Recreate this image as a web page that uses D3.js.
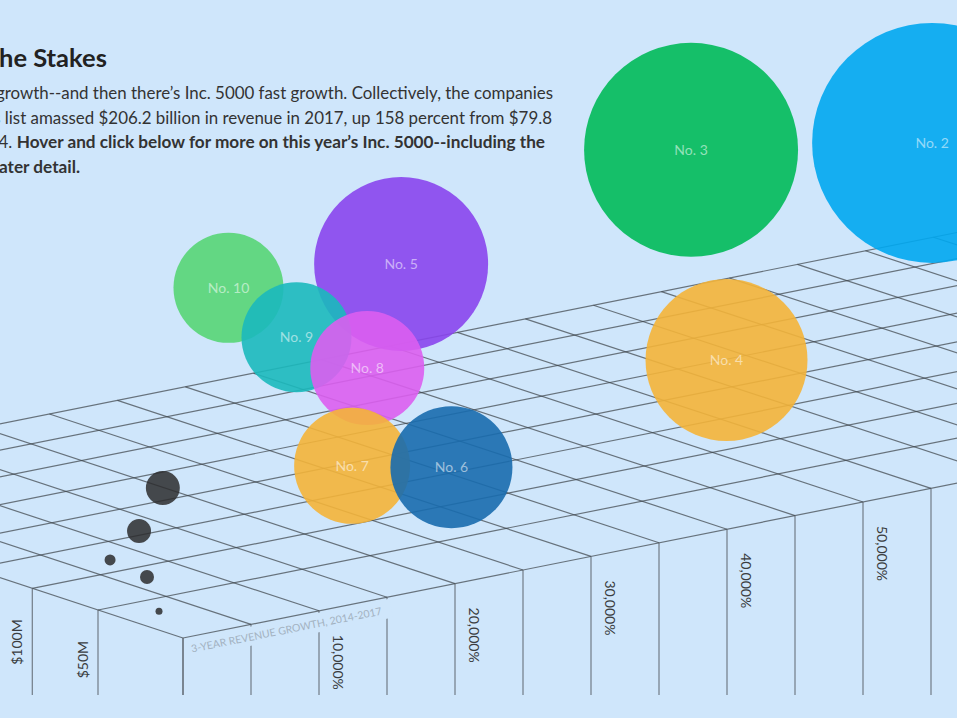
<!DOCTYPE html>
<html>
<head>
<meta charset="utf-8">
<script src="https://cdn.jsdelivr.net/npm/d3@7"></script>
<style>
  body { margin: 0; background: #cfe6fb; overflow: hidden; }
  svg { display: block; font-family: Lato, "Open Sans", sans-serif; }
</style>
</head>
<body>
<div class="chart-container"></div>
<script>
// Top 10 companies (No. 1 sits off the right edge)
const ranks = [2, 3, 4, 5, 6, 7, 8, 9, 10];
const growth = [78700, 57000, 52400, 29800, 27500, 19900, 19800, 14800, 9800];   // 3-year growth, %
const revenue = [250, 200, 115, 130, 65, 62, 50, 52, 52];                       // 2017 revenue, $M
const elevation = [58.4, 81.7, 26.6, 77.1, 20.4, 28.2, 62.7, 77.2, 98.2];
const employees = [2000, 1590, 911, 1051, 517, 467, 451, 420, 420];
const colors = ['#00a7ef', '#00ba59', '#f4b438', '#8845ed', '#186cae', '#f4b438', '#db5eef', '#1bb9bd', '#56d575'];

// the rest of the list (small dark dots)
const otherGrowth = [3500, 1750, 260, 1110, 800];
const otherRevenue = [38, 38, 44, 27, 17];
const otherElevation = [39.4, 26.6, 17.4, 13.7, 4.4];
const otherEmployees = [40, 20, 4.2, 6.8, 1.7];

// axes
const growthGrid = d3.range(0, 100001, 5000);
const revenueGrid = d3.range(0, 401, 50);
const growthTicks = [10000, 20000, 30000, 40000, 50000];
const revenueTicks = [50, 100];

const width = 957;
const height = 718;
const origin = {x: 183, y: 638};     // front corner of the floor
const gVec = [68, -13.6];            // one 5,000% step on screen
const rVec = [-85, -28];             // one $50M step on screen
const wallBottom = 695;

const gScale = d3.scaleLinear().domain([0, 5000]).range([0, 1]);
const rScale = d3.scalePow().exponent(0.826).domain([0, 50]).range([0, 1]);
const hScale = d3.scaleLinear().domain([0, 100]).range([0, 300]);
const size = d3.scaleSqrt().domain([0, 2000]).range([0, 120]);

function project(g, r, h = 0) {
    const G = gScale(g), U = rScale(r);
    return [origin.x + gVec[0] * G + rVec[0] * U,
            origin.y + gVec[1] * G + rVec[1] * U - hScale(h)];
}

const svg = d3.select('.chart-container').append('svg')
    .attr('width', width)
    .attr('height', height);

svg.append('rect').attr('width', width).attr('height', height).attr('fill', '#cfe6fb');

// Floor grid
const grid = svg.append('g')
    .attr('stroke', '#3f454b')
    .attr('stroke-opacity', 0.72)
    .attr('stroke-width', 1.2);

grid.selectAll('.rline')
    .data(revenueGrid)
    .join('line')
    .attr('x1', d => project(0, d)[0]).attr('y1', d => project(0, d)[1])
    .attr('x2', d => project(100000, d)[0]).attr('y2', d => project(100000, d)[1]);

grid.selectAll('.gline')
    .data(growthGrid)
    .join('line')
    .attr('x1', d => project(d, 0)[0]).attr('y1', d => project(d, 0)[1])
    .attr('x2', d => project(d, 400)[0]).attr('y2', d => project(d, 400)[1]);

// Walls hanging from the front edges
const walls = svg.append('g')
    .attr('stroke', '#5b636b')
    .attr('stroke-opacity', 0.75)
    .attr('stroke-width', 1.3);

walls.selectAll('.gwall')
    .data(growthGrid)
    .join('line')
    .attr('x1', d => project(d, 0)[0]).attr('y1', d => project(d, 0)[1])
    .attr('x2', d => project(d, 0)[0]).attr('y2', wallBottom);

walls.selectAll('.rwall')
    .data(revenueGrid)
    .join('line')
    .attr('x1', d => project(0, d)[0]).attr('y1', d => project(0, d)[1])
    .attr('x2', d => project(0, d)[0]).attr('y2', wallBottom);

// Tick labels
svg.append('g').selectAll('text')
    .data(growthTicks)
    .join('text')
    .attr('transform', d => `translate(${project(d, 0)[0] + 14},${project(d, 0)[1] + 24}) rotate(90)`)
    .attr('font-size', 14)
    .attr('fill', '#3a3d40')
    .text(d => d3.format(',')(d) + '%');

svg.append('g').selectAll('text')
    .data(revenueTicks)
    .join('text')
    .attr('transform', d => `translate(${project(0, d)[0] - 10},${project(0, d)[1] + 31}) rotate(-90)`)
    .attr('text-anchor', 'end')
    .attr('font-size', 14)
    .attr('fill', '#3a3d40')
    .text(d => '$' + d + 'M');

// Growth axis title along the front edge
const angle = Math.atan2(gVec[1], gVec[0]) * 180 / Math.PI;
const axisTitle = svg.append('g')
    .attr('transform', `translate(${origin.x},${origin.y}) rotate(${angle})`);
axisTitle.append('rect')
    .attr('x', 4).attr('y', 2).attr('width', 206).attr('height', 19)
    .attr('fill', '#cfe6fb');
axisTitle.append('text')
    .attr('x', 6).attr('y', 16)
    .attr('font-size', 10.5)
    .attr('fill', '#a3b2c1')
    .text('3-YEAR REVENUE GROWTH, 2014-2017');

// Companies
const others = otherGrowth.map((g, i) => ({
    p: project(g, otherRevenue[i], otherElevation[i]), r: size(otherEmployees[i])
}));
svg.append('g').selectAll('circle')
    .data(others)
    .join('circle')
    .attr('cx', d => d.p[0]).attr('cy', d => d.p[1]).attr('r', d => d.r)
    .attr('fill', '#2c2b2d')
    .attr('fill-opacity', 0.85);

const bubbles = ranks.map((rank, i) => ({
    rank, color: colors[i],
    p: project(growth[i], revenue[i], elevation[i]),
    r: size(employees[i])
})).sort((a, b) => a.p[1] - b.p[1]);

const bubble = svg.append('g').selectAll('g')
    .data(bubbles)
    .join('g')
    .attr('transform', d => `translate(${d.p[0]},${d.p[1]})`);
bubble.append('circle')
    .attr('r', d => d.r)
    .attr('fill', d => d.color)
    .attr('fill-opacity', 0.9);
bubble.append('text')
    .attr('text-anchor', 'middle')
    .attr('dy', '0.35em')
    .attr('font-size', 14)
    .attr('fill', '#fff')
    .attr('fill-opacity', 0.55)
    .text(d => 'No. ' + d.rank);

// Intro text (cut off on the left)
svg.append('text')
    .attr('x', -1).attr('y', 67)
    .attr('font-size', 25.5).attr('font-weight', 700).attr('fill', '#222')
    .text('he Stakes');

const intro = svg.append('g').attr('font-size', 16.9).attr('fill', '#333');
intro.append('text').attr('x', 553).attr('y', 99).attr('text-anchor', 'end')
    .text('growth--and then there’s Inc. 5000 fast growth. Collectively, the companies');
intro.append('text').attr('x', 552).attr('y', 124).attr('text-anchor', 'end')
    .text('s list amassed $206.2 billion in revenue in 2017, up 158 percent from $79.8');
const l3 = intro.append('text').attr('x', 545).attr('y', 148).attr('text-anchor', 'end');
l3.append('tspan').text('4. ');
l3.append('tspan').attr('font-weight', 700).attr('font-size', 17.2)
    .text('Hover and click below for more on this year’s Inc. 5000--including the');
intro.append('text').attr('x', -1).attr('y', 173)
    .attr('font-weight', 700).attr('font-size', 17.2)
    .text('ater detail.');
</script>
</body>
</html>
